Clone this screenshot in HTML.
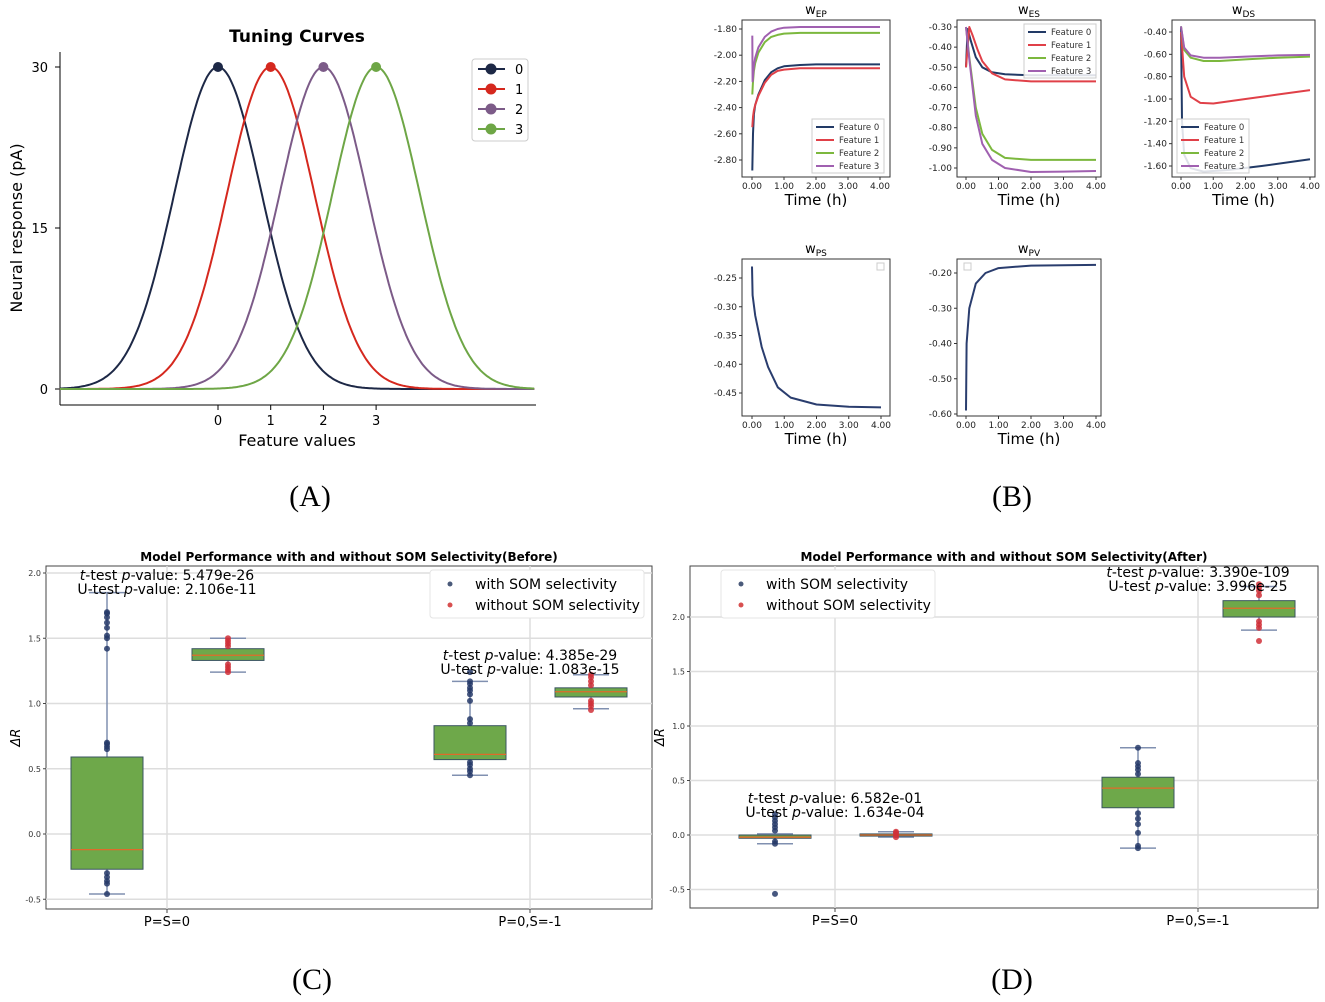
<!DOCTYPE html>
<html><head><meta charset="utf-8">
<style>
html,body{margin:0;padding:0;background:#fff;}
svg{display:block;font-family:"DejaVu Sans","Liberation Sans",sans-serif;}
</style></head>
<body>
<svg id="fig" width="1325" height="1002" viewBox="0 0 1325 1002" xmlns="http://www.w3.org/2000/svg"></svg>
<script>
// ---------- Panel A data ----------
const tuningCenters = [0, 1, 2, 3];
const tuningLabels = ["0", "1", "2", "3"];
const tuningPeak = 30;
const tuningSigma = 0.83;
const tuningYTicks = [0, 15, 30];
const tuningXTicks = [0, 1, 2, 3];

// ---------- Panel B data ----------
const featureNames = ["Feature 0", "Feature 1", "Feature 2", "Feature 3"];
const timeTicks = [0, 1, 2, 3, 4];
const wepF0 = [[0.01,-2.88],[0.03,-2.6],[0.06,-2.45],[0.1,-2.38],[0.2,-2.3],[0.4,-2.19],[0.6,-2.13],[0.8,-2.1],[1.0,-2.085],[1.5,-2.075],[2,-2.07],[3,-2.07],[4,-2.07]];
const wepF1 = [[0.01,-2.55],[0.03,-2.47],[0.06,-2.42],[0.1,-2.38],[0.2,-2.31],[0.4,-2.21],[0.6,-2.15],[0.8,-2.12],[1.0,-2.11],[1.5,-2.1],[2,-2.1],[3,-2.1],[4,-2.1]];
const wepF2 = [[0.01,-2.3],[0.03,-2.2],[0.06,-2.12],[0.1,-2.06],[0.2,-1.98],[0.4,-1.9],[0.6,-1.86],[0.8,-1.845],[1.0,-1.835],[1.5,-1.83],[2,-1.83],[3,-1.83],[4,-1.83]];
const wepF3 = [[0.01,-1.85],[0.02,-2.2],[0.06,-2.08],[0.1,-2.02],[0.2,-1.94],[0.4,-1.86],[0.6,-1.82],[0.8,-1.8],[1.0,-1.79],[1.5,-1.785],[2,-1.785],[3,-1.785],[4,-1.785]];
const wesF0 = [[0,-0.5],[0.05,-0.31],[0.15,-0.37],[0.3,-0.45],[0.5,-0.5],[0.8,-0.525],[1.2,-0.535],[2,-0.54],[3,-0.54],[4,-0.54]];
const wesF1 = [[0,-0.5],[0.1,-0.3],[0.2,-0.34],[0.35,-0.41],[0.5,-0.47],[0.8,-0.53],[1.2,-0.56],[2,-0.57],[3,-0.57],[4,-0.57]];
const wesF2 = [[0,-0.3],[0.1,-0.45],[0.3,-0.7],[0.5,-0.83],[0.8,-0.91],[1.2,-0.95],[2,-0.96],[3,-0.96],[4,-0.96]];
const wesF3 = [[0,-0.3],[0.1,-0.46],[0.3,-0.74],[0.5,-0.88],[0.8,-0.96],[1.2,-1.0],[2,-1.02],[3,-1.018],[4,-1.015]];
const wdsF0 = [[0,-0.35],[0.03,-1.2],[0.1,-1.5],[0.3,-1.62],[0.7,-1.65],[1.5,-1.635],[2.5,-1.6],[4,-1.54]];
const wdsF1 = [[0,-0.4],[0.1,-0.8],[0.3,-0.98],[0.6,-1.035],[1,-1.04],[2,-1.0],[3,-0.96],[4,-0.92]];
const wdsF2 = [[0,-0.35],[0.1,-0.56],[0.3,-0.63],[0.7,-0.66],[1.2,-0.66],[2,-0.645],[3,-0.63],[4,-0.62]];
const wdsF3 = [[0,-0.35],[0.1,-0.54],[0.3,-0.61],[0.7,-0.63],[1.2,-0.63],[2,-0.62],[3,-0.61],[4,-0.605]];
const wpsSeries = [[0,-0.23],[0.02,-0.28],[0.1,-0.315],[0.3,-0.37],[0.5,-0.405],[0.8,-0.44],[1.2,-0.458],[2,-0.47],[3,-0.474],[4,-0.475]];
const wpvSeries = [[0,-0.59],[0.02,-0.4],[0.1,-0.3],[0.3,-0.23],[0.6,-0.2],[1,-0.186],[2,-0.179],[4,-0.177]];

// ---------- Panel C/D data ----------
const groupNames = ["P=S=0", "P=0,S=-1"];
const beforeYTicks = [-0.5, 0.0, 0.5, 1.0, 1.5, 2.0];
const afterYTicks = [-0.5, 0.0, 0.5, 1.0, 1.5, 2.0];
// [whiskerLow, q1, median, q3, whiskerHigh]
const beforeWith = [[-0.46,-0.27,-0.12,0.59,1.85],[0.45,0.57,0.61,0.83,1.17]];
const beforeWithout = [[1.24,1.33,1.37,1.42,1.50],[0.96,1.05,1.09,1.12,1.22]];
const beforeWithOut = [[1.42,1.5,1.52,1.58,1.62,1.66,1.69,1.7,0.65,0.67,0.69,0.7,-0.3,-0.33,-0.36,-0.38,-0.46],[1.02,1.07,1.1,1.12,1.15,1.17,1.24,0.85,0.88,0.45,0.48,0.5,0.53,0.55]];
const beforeWithoutOut = [[1.24,1.26,1.28,1.3,1.44,1.46,1.48,1.5],[0.95,0.98,1.0,1.02,1.14,1.17,1.2,1.22]];
const afterWith = [[-0.08,-0.03,-0.02,0.0,0.01],[-0.12,0.25,0.43,0.53,0.80]];
const afterWithout = [[-0.02,-0.01,0.0,0.01,0.03],[1.88,2.0,2.08,2.15,2.28]];
const afterWithOut = [[0.04,0.07,0.1,0.13,0.16,0.19,-0.06,-0.08,-0.54],[0.56,0.6,0.63,0.66,0.8,0.2,0.15,0.1,0.02,-0.1,-0.12]];
const afterWithoutOut = [[-0.02,0.0,0.02,0.03],[1.78,1.9,1.93,1.96,2.2,2.24,2.27,2.3]];
const beforeTTest = ["5.479e-26", "4.385e-29"];
const beforeUTest = ["2.106e-11", "1.083e-15"];
const afterTTest = ["6.582e-01", "3.390e-109"];
const afterUTest = ["1.634e-04", "3.996e-25"];

// ---------- helpers ----------
const NS = "http://www.w3.org/2000/svg";
const fig = document.getElementById("fig");
function mk(tag, attrs, parent, name, inter) {
  const e = document.createElementNS(NS, tag);
  for (const k in attrs) e.setAttribute(k, attrs[k]);
  
  
  (parent || fig).appendChild(e);
  return e;
}
function txt(s, x, y, attrs, parent, name) {
  const t = mk("text", Object.assign({x: x, y: y}, attrs), parent, name);
  t.textContent = s;
  return t;
}
function lin(d0, d1, r0, r1) { return v => r0 + (v - d0) / (d1 - d0) * (r1 - r0); }

// ---------- Panel A ----------
(function () {
  const g = mk("g", {}, fig, "tuning-curves-panel");
  const X = lin(0, 1, 218, 270.7), Y = lin(0, 30, 389, 67);
  const colors = ["#1d2846", "#d5281e", "#7c5b88", "#6ea646"];
  txt("Tuning Curves", 297, 42, {"text-anchor": "middle", "font-size": 17, "font-weight": "bold"}, g, "chart-title");
  mk("line", {x1: 60, y1: 52, x2: 60, y2: 405, stroke: "#000", "stroke-width": 1}, g, "y-axis-line");
  mk("line", {x1: 60, y1: 405, x2: 536, y2: 405, stroke: "#000", "stroke-width": 1}, g, "x-axis-line");
  tuningYTicks.forEach(v => {
    mk("line", {x1: 55, y1: Y(v), x2: 60, y2: Y(v), stroke: "#000"}, g, "y-tick");
    txt(String(v), 48, Y(v) + 5, {"text-anchor": "end", "font-size": 13}, g, "y-tick-label");
  });
  tuningXTicks.forEach(v => {
    mk("line", {x1: X(v), y1: 405, x2: X(v), y2: 410, stroke: "#000"}, g, "x-tick");
    txt(String(v), X(v), 425, {"text-anchor": "middle", "font-size": 13}, g, "x-tick-label");
  });
  txt("Feature values", 297, 446, {"text-anchor": "middle", "font-size": 16}, g, "x-axis-title");
  txt("Neural response (pA)", 22, 228, {"text-anchor": "middle", "font-size": 16, transform: "rotate(-90 22 228)"}, g, "y-axis-title");
  tuningCenters.forEach((c, i) => {
    let d = "";
    for (let k = 0; k <= 300; k++) {
      const xv = -3 + 9 * k / 300;
      const yv = tuningPeak * Math.exp(-((xv - c) ** 2) / (2 * tuningSigma * tuningSigma));
      d += (k ? "L" : "M") + X(xv).toFixed(1) + " " + Y(yv).toFixed(1);
    }
    mk("path", {d: d, fill: "none", stroke: colors[i], "stroke-width": 2}, g, "tuning-curve-" + i);
    mk("circle", {cx: X(c), cy: Y(tuningPeak), r: 5, fill: colors[i]}, g, "peak-marker-" + i);
  });
  const lg = mk("g", {}, g, "legend");
  mk("rect", {x: 472, y: 59, width: 56, height: 82, rx: 3, fill: "#fff", stroke: "#ccc"}, lg, "legend-box");
  tuningLabels.forEach((l, i) => {
    const yy = 69 + i * 20;
    mk("line", {x1: 478, y1: yy, x2: 505, y2: yy, stroke: colors[i], "stroke-width": 2}, lg, "legend-line");
    mk("circle", {cx: 491, cy: yy, r: 5.5, fill: colors[i]}, lg, "legend-marker");
    txt(l, 515, yy + 5, {"font-size": 13}, lg, "legend-entry");
  });
  txt("(A)", 310, 506, {"text-anchor": "middle", "font-size": 30, "font-family": "Liberation Serif, serif"}, fig, "panel-label-a");
})();

// ---------- Panel B ----------
const fcol = ["#223a66", "#e04048", "#7cb83e", "#a060b0"];
function smallPlot(o) {
  const g = mk("g", {}, fig, o.name);
  const X = lin(0, 4, o.x0, o.x4), Y = lin(o.ya, o.yb, o.pa, o.pb);
  mk("rect", {x: o.l, y: o.t, width: o.r - o.l, height: o.b - o.t, fill: "#fff", stroke: "#333", "stroke-width": 1}, g, "plot-frame");
  o.series.forEach((s, i) => {
    const d = s.map((p, k) => (k ? "L" : "M") + X(p[0]).toFixed(1) + " " + Y(p[1]).toFixed(1)).join("");
    mk("path", {d: d, fill: "none", stroke: o.colors[i], "stroke-width": 2, "stroke-linejoin": "round"}, g, "series-line-" + i);
  });
  o.yticks.forEach(v => {
    mk("line", {x1: o.l - 3, y1: Y(v), x2: o.l, y2: Y(v), stroke: "#333"}, g, "y-tick");
    txt(v.toFixed(2), o.l - 5, Y(v) + 3, {"text-anchor": "end", "font-size": 9, fill: "#222"}, g, "y-tick-label");
  });
  timeTicks.forEach(v => {
    mk("line", {x1: X(v), y1: o.b, x2: X(v), y2: o.b + 3, stroke: "#333"}, g, "x-tick");
    txt(v.toFixed(2), X(v), o.b + 12, {"text-anchor": "middle", "font-size": 9, fill: "#222"}, g, "x-tick-label");
  });
  txt("Time (h)", (o.l + o.r) / 2, o.b + 28, {"text-anchor": "middle", "font-size": 15}, g, "x-axis-title");
  const t = mk("text", {x: (o.l + o.r) / 2, y: o.t - 6, "text-anchor": "middle", "font-size": 13}, g, "subplot-title");
  t.innerHTML = 'w<tspan font-size="9" dy="3">' + o.sub + '</tspan>';
  if (o.legend) {
    const lg = mk("g", {}, g, "legend");
    const lx = o.legend[0], ly = o.legend[1];
    mk("rect", {x: lx, y: ly, width: 72, height: 54, fill: "#fff", stroke: "#ccc", "fill-opacity": 0.85}, lg, "legend-box");
    featureNames.forEach((f, i) => {
      mk("line", {x1: lx + 4, y1: ly + 8 + i * 13, x2: lx + 22, y2: ly + 8 + i * 13, stroke: fcol[i], "stroke-width": 2}, lg, "legend-line");
      txt(f, lx + 27, ly + 11 + i * 13, {"font-size": 8.5, fill: "#333"}, lg, "legend-entry");
    });
  }
  if (o.emptyLegend) mk("rect", {x: o.emptyLegend[0], y: o.emptyLegend[1], width: 7, height: 7, fill: "#fff", stroke: "#ccc"}, g, "empty-legend");
}
smallPlot({name: "wep-plot", sub: "EP", l: 742, r: 890, t: 20, b: 177, x0: 752, x4: 880, ya: -1.8, yb: -2.8, pa: 29, pb: 160,
  yticks: [-1.8, -2.0, -2.2, -2.4, -2.6, -2.8], series: [wepF0, wepF1, wepF2, wepF3], colors: fcol, legend: [812, 119]});
smallPlot({name: "wes-plot", sub: "ES", l: 957, r: 1101, t: 20, b: 177, x0: 966, x4: 1096, ya: -0.3, yb: -1.0, pa: 27, pb: 168,
  yticks: [-0.3, -0.4, -0.5, -0.6, -0.7, -0.8, -0.9, -1.0], series: [wesF0, wesF1, wesF2, wesF3], colors: fcol, legend: [1024, 24]});
smallPlot({name: "wds-plot", sub: "DS", l: 1172, r: 1315, t: 20, b: 177, x0: 1181, x4: 1310, ya: -0.4, yb: -1.6, pa: 32, pb: 166,
  yticks: [-0.4, -0.6, -0.8, -1.0, -1.2, -1.4, -1.6], series: [wdsF0, wdsF1, wdsF2, wdsF3], colors: fcol, legend: [1177, 119]});
smallPlot({name: "wps-plot", sub: "PS", l: 742, r: 890, t: 259, b: 416, x0: 752, x4: 881, ya: -0.25, yb: -0.45, pa: 278, pb: 393,
  yticks: [-0.25, -0.3, -0.35, -0.4, -0.45], series: [wpsSeries], colors: ["#2a3d6e"], emptyLegend: [877, 263]});
smallPlot({name: "wpv-plot", sub: "PV", l: 957, r: 1101, t: 259, b: 416, x0: 966, x4: 1096, ya: -0.2, yb: -0.6, pa: 273, pb: 414,
  yticks: [-0.2, -0.3, -0.4, -0.5, -0.6], series: [wpvSeries], colors: ["#2a3d6e"], emptyLegend: [964, 263]});
txt("(B)", 1012, 506, {"text-anchor": "middle", "font-size": 30, "font-family": "Liberation Serif, serif"}, fig, "panel-label-b");

// ---------- Panel C/D ----------
function boxPanel(o) {
  const g = mk("g", {}, fig, o.name);
  const Y = lin(o.ya, o.yb, o.pa, o.pb);
  const cx = o.centers;
  txt(o.title, (o.l + o.r) / 2, 561, {"text-anchor": "middle", "font-size": 12, "font-weight": "bold"}, g, "chart-title");
  mk("rect", {x: o.l, y: o.t, width: o.r - o.l, height: o.b - o.t, fill: "#fff", stroke: "#444", "stroke-width": 1}, g, "plot-frame");
  o.yticks.forEach(v => {
    mk("line", {x1: o.l, y1: Y(v), x2: o.r, y2: Y(v), stroke: "#ddd", "stroke-width": 1.5}, g, "y-gridline");
    mk("line", {x1: o.l - 3, y1: Y(v), x2: o.l, y2: Y(v), stroke: "#444"}, g, "y-tick");
    txt(v.toFixed(1), o.l - 5, Y(v) + 3, {"text-anchor": "end", "font-size": 8, fill: "#333"}, g, "y-tick-label");
  });
  groupNames.forEach((n, i) => {
    mk("line", {x1: cx[i], y1: o.t, x2: cx[i], y2: o.b, stroke: "#ddd", "stroke-width": 1.5}, g, "x-gridline");
    mk("line", {x1: cx[i], y1: o.b, x2: cx[i], y2: o.b + 4, stroke: "#444"}, g, "x-tick");
    txt(n, cx[i], o.b + 17, {"text-anchor": "middle", "font-size": 13}, g, "x-tick-label");
  });
  txt("ΔR", o.l - 26, (o.t + o.b) / 2, {"text-anchor": "middle", "font-size": 13, "font-style": "italic", transform: "rotate(-90 " + (o.l - 26) + " " + ((o.t + o.b) / 2) + ")"}, g, "y-axis-title");
  function drawBox(s, c, outs, dotCol, nm) {
    const bg = mk("g", {}, g, nm);
    const w = 72;
    mk("line", {x1: c, y1: Y(s[0]), x2: c, y2: Y(s[4]), stroke: "#8090b0", "stroke-width": 1.5}, bg, "whisker");
    mk("line", {x1: c - 18, y1: Y(s[0]), x2: c + 18, y2: Y(s[0]), stroke: "#8090b0", "stroke-width": 1.5}, bg, "whisker-cap-low");
    mk("line", {x1: c - 18, y1: Y(s[4]), x2: c + 18, y2: Y(s[4]), stroke: "#8090b0", "stroke-width": 1.5}, bg, "whisker-cap-high");
    mk("rect", {x: c - w / 2, y: Y(s[3]), width: w, height: Math.max(1, Y(s[1]) - Y(s[3])), fill: "#6ea84a", stroke: "#3a5560", "stroke-width": 1}, bg, "box");
    mk("line", {x1: c - w / 2, y1: Y(s[2]), x2: c + w / 2, y2: Y(s[2]), stroke: "#e06a2a", "stroke-width": 1.3}, bg, "median-line");
    outs.forEach(v => mk("circle", {cx: c, cy: Y(v), r: 3, fill: dotCol, "fill-opacity": 0.85}, bg, "data-point"));
  }
  for (let i = 0; i < 2; i++) {
    drawBox(o.withS[i], cx[i] - 60, o.withOut[i], "#263a68", "box-with-som-" + i);
    drawBox(o.withoutS[i], cx[i] + 61, o.withoutOut[i], "#d03038", "box-without-som-" + i);
    const ax = o.annX[i], ay = o.annY[i];
    const t1 = mk("text", {x: ax, y: ay, "text-anchor": "middle", "font-size": 14}, g, "t-test-annotation");
    t1.innerHTML = '<tspan font-style="italic">t</tspan>-test <tspan font-style="italic">p</tspan>-value: ' + o.tt[i];
    const t2 = mk("text", {x: ax, y: ay + 14, "text-anchor": "middle", "font-size": 14}, g, "u-test-annotation");
    t2.innerHTML = 'U-test <tspan font-style="italic">p</tspan>-value: ' + o.ut[i];
  }
  const lg = mk("g", {}, g, "legend");
  const lx = o.legX;
  mk("rect", {x: lx, y: 570, width: 214, height: 48, rx: 3, fill: "#fff", stroke: "#e4e4e4"}, lg, "legend-box");
  mk("circle", {cx: lx + 20, cy: 584, r: 2.5, fill: "#4a5a7a"}, lg, "legend-marker-with");
  txt("with SOM selectivity", lx + 45, 589, {"font-size": 14}, lg, "legend-entry-with");
  mk("circle", {cx: lx + 20, cy: 605, r: 2.5, fill: "#d85050"}, lg, "legend-marker-without");
  txt("without SOM selectivity", lx + 45, 610, {"font-size": 14}, lg, "legend-entry-without");
}
boxPanel({name: "before-panel", title: "Model Performance with and without SOM Selectivity(Before)",
  l: 46, r: 652, t: 566, b: 909, ya: 0, yb: 1, pa: 834, pb: 703.5, yticks: beforeYTicks, centers: [167, 530],
  withS: beforeWith, withoutS: beforeWithout, withOut: beforeWithOut, withoutOut: beforeWithoutOut,
  tt: beforeTTest, ut: beforeUTest, annX: [167, 530], annY: [580, 660], legX: 430});
boxPanel({name: "after-panel", title: "Model Performance with and without SOM Selectivity(After)",
  l: 690, r: 1318, t: 566, b: 908, ya: 0, yb: 1, pa: 835, pb: 726, yticks: afterYTicks, centers: [835, 1198],
  withS: afterWith, withoutS: afterWithout, withOut: afterWithOut, withoutOut: afterWithoutOut,
  tt: afterTTest, ut: afterUTest, annX: [835, 1198], annY: [803, 577], legX: 721});
txt("(C)", 312, 989, {"text-anchor": "middle", "font-size": 30, "font-family": "Liberation Serif, serif"}, fig, "panel-label-c");
txt("(D)", 1012, 989, {"text-anchor": "middle", "font-size": 30, "font-family": "Liberation Serif, serif"}, fig, "panel-label-d");
</script>
</body></html>
